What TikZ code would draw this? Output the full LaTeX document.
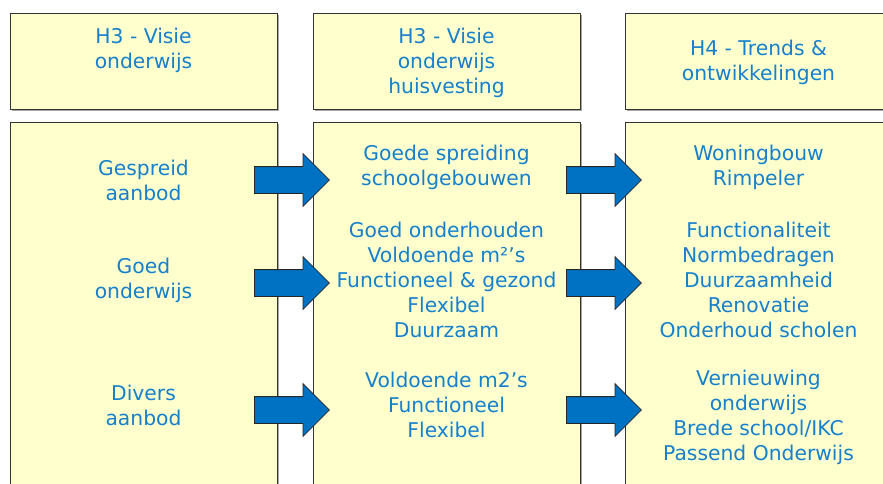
\documentclass[tikz,border=0pt]{standalone}
\usepackage{fontspec}
\setmainfont{DejaVu Sans}
\usetikzlibrary{shapes.arrows,shadows}
\definecolor{txtblue}{RGB}{22,128,204}
\definecolor{boxfill}{RGB}{255,255,206}
\definecolor{arrowblue}{RGB}{0,114,196}

\begin{document}
\begin{tikzpicture}[x=1pt, y=-1pt,
  box/.style={draw=black!80, line width=1.2pt, fill=boxfill, anchor=north west, inner sep=0pt,
    minimum width=267pt, drop shadow={shadow xshift=1.2pt, shadow yshift=-1.2pt, fill=black!35, opacity=1}},
  head/.style={box, minimum height=96pt},
  body/.style={box, minimum height=380pt},
  txt/.style={text=txtblue, align=center, inner sep=0pt, font=\fontsize{20.3}{25}\selectfont},
  blockarrow/.style={single arrow, draw=black!85, fill=arrowblue, line width=0.8pt, inner xsep=0pt, inner ysep=13pt,
    minimum height=75pt, minimum width=52pt, single arrow head extend=13pt, anchor=tail}]
  \clip (0,0) rectangle (883,483);
  \fill[white] (0,0) rectangle (883,483);
  % columns
  \node[head] (H0) at (10, 13) {};
  \node[head] (H1) at (313, 13) {};
  \node[head] (H2) at (625, 13) {};
  \node[body] (B0) at (10, 122) {};
  \node[body] (B1) at (313, 122) {};
  \node[body] (B2) at (625, 122) {};
  % arrows
  \node[blockarrow] (A00) at (254, 180) {};
  \node[blockarrow] (A01) at (254, 283) {};
  \node[blockarrow] (A02) at (254, 410) {};
  \node[blockarrow] (A10) at (566, 180) {};
  \node[blockarrow] (A11) at (566, 283) {};
  \node[blockarrow] (A12) at (566, 410) {};
  % headers
  \node[txt] (T0) at (143.5, 50.5) {H3 - Visie\\onderwijs};
  \node[txt] (T1) at (446.5, 63) {H3 - Visie\\onderwijs\\huisvesting};
  \node[txt] (T2) at (758.5, 62.5) {H4 - Trends \&\\ontwikkelingen};
  % left column
  \node[txt] (L0) at (143.5, 180.5) {Gespreid\\aanbod};
  \node[txt] (L1) at (143.5, 280.5) {Goed\\onderwijs};
  \node[txt] (L2) at (143.5, 405.5) {Divers\\aanbod};
  % middle column
  \node[txt] (M0) at (446.5, 167.5) {Goede spreiding\\schoolgebouwen};
  \node[txt] (M1) at (446.5, 280) {Goed onderhouden\\Voldoende m²’s\\Functioneel \& gezond\\Flexibel\\Duurzaam};
  \node[txt] (M2) at (446.5, 405) {Voldoende m2’s\\Functioneel\\Flexibel};
  % right column
  \node[txt] (R0) at (758.5, 167.5) {Woningbouw\\Rimpeler};
  \node[txt] (R1) at (758.5, 280) {Functionaliteit\\Normbedragen\\Duurzaamheid\\Renovatie\\Onderhoud scholen};
  \node[txt] (R2) at (758.5, 417.5) {Vernieuwing\\onderwijs\\Brede school/IKC\\Passend Onderwijs};
\end{tikzpicture}
\end{document}
